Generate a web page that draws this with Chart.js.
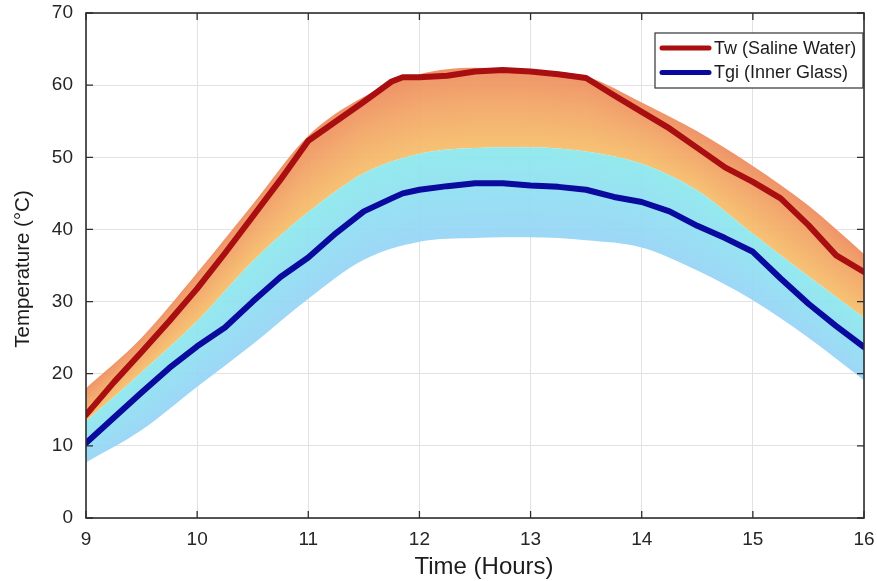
<!DOCTYPE html>
<html>
<head>
<meta charset="utf-8">
<script src="https://cdn.jsdelivr.net/npm/chart.js@4.4.1/dist/chart.umd.min.js"></script>
<style>
  html, body { margin: 0; padding: 0; background: #ffffff; }
  canvas { display: block; }
</style>
</head>
<body>
<canvas id="chart" width="877" height="581"></canvas>
<script>
// Hourly temperatures of the saline water and the inner glass surface
const lineHours = [9, 9.25, 9.5, 9.75, 10, 10.25, 10.5, 10.75, 11, 11.25, 11.5, 11.75, 11.85, 12, 12.25, 12.5, 12.75, 13, 13.25, 13.5, 13.75, 14, 14.25, 14.5, 14.75, 15, 15.25, 15.5, 15.75, 16];
const twSaline = [14.3, 18.8, 23.0, 27.3, 31.8, 36.7, 41.8, 46.9, 52.3, 55.0, 57.7, 60.5, 61.1, 61.1, 61.3, 61.9, 62.1, 61.9, 61.5, 61.0, 58.6, 56.3, 54.0, 51.3, 48.6, 46.6, 44.3, 40.6, 36.4, 34.1];
const tgiGlass = [10.4, 13.9, 17.4, 20.8, 23.8, 26.4, 30.0, 33.4, 36.1, 39.5, 42.5, 44.3, 45.0, 45.5, 46.0, 46.4, 46.4, 46.1, 45.9, 45.5, 44.5, 43.8, 42.5, 40.5, 38.8, 36.9, 33.2, 29.7, 26.6, 23.7];

// Uncertainty envelopes around each series
const bandHours = [9, 9.5, 10, 10.5, 11, 11.5, 12, 12.5, 13, 13.5, 14, 14.5, 15, 15.5, 16];
const twBandTop = [18.0, 25.0, 34.0, 43.5, 53.0, 58.4, 61.5, 62.4, 62.1, 61.2, 57.6, 53.6, 48.8, 43.3, 36.6];
const bandSplit = [13.4, 20.2, 27.3, 35.6, 42.4, 47.8, 50.5, 51.3, 51.4, 50.8, 49.1, 45.4, 39.4, 33.5, 27.8];
const tgiBandBottom = [7.7, 12.2, 18.2, 24.1, 30.4, 35.8, 38.3, 38.8, 38.9, 38.5, 37.5, 34.3, 30.2, 25.0, 19.1];

const xTicks = [9, 10, 11, 12, 13, 14, 15, 16];
const yTicks = [0, 10, 20, 30, 40, 50, 60, 70];
const seriesNames = ['Tw (Saline Water)', 'Tgi (Inner Glass)'];
const xTitle = 'Time (Hours)';
const yTitle = 'Temperature (°C)';

const FONT = '"Liberation Sans", Arial, Helvetica, sans-serif';
const RED = '#a90f10';
const BLUE = '#0a0a9e';
const AXIS = '#2e2e2e';

const toPoints = (xs, ys) => xs.map((x, i) => ({ x: x, y: ys[i] }));

function interpY(points, px) {
  if (px <= points[0].x) return points[0].y;
  for (let i = 1; i < points.length; i++) {
    const a = points[i - 1], b = points[i];
    if (px <= b.x) {
      const t = (px - a.x) / (b.x - a.x);
      return a.y + t * (b.y - a.y);
    }
  }
  return points[points.length - 1].y;
}

function tracePath(ctx, line, area) {
  if (typeof line.path === 'function') {
    if (typeof line.updateControlPoints === 'function') line.updateControlPoints(area, 'x');
    line.path(ctx);
  } else {
    const pts = line.points;
    ctx.moveTo(pts[0].x, pts[0].y);
    for (let i = 1; i < pts.length; i++) ctx.lineTo(pts[i].x, pts[i].y);
  }
}

// Shaded envelopes: each column gets its own vertical gradient between the band edges
const bandPlugin = {
  id: 'bands',
  beforeDatasetsDraw(chart) {
    const ctx = chart.ctx;
    const area = chart.chartArea;
    const bands = [
      { top: 2, bottom: 3, stops: [[0, 'rgba(238,140,94,0.93)'], [0.45, 'rgba(242,165,100,0.93)'], [1, 'rgba(246,190,106,0.93)']] },
      { top: 3, bottom: 4, stops: [[0, 'rgba(140,232,236,0.93)'], [0.5, 'rgba(144,222,242,0.93)'], [1, 'rgba(150,212,246,0.93)']] }
    ];
    bands.forEach(b => {
      const mTop = chart.getDatasetMeta(b.top);
      const mBot = chart.getDatasetMeta(b.bottom);
      ctx.save();
      ctx.beginPath();
      tracePath(ctx, mTop.dataset, area);
      ctx.lineTo(area.right + 2, area.bottom + 2);
      ctx.lineTo(area.left - 2, area.bottom + 2);
      ctx.closePath();
      ctx.clip();
      ctx.beginPath();
      tracePath(ctx, mBot.dataset, area);
      ctx.lineTo(area.right + 2, area.top - 2);
      ctx.lineTo(area.left - 2, area.top - 2);
      ctx.closePath();
      ctx.clip();
      const topPts = mTop.data, botPts = mBot.data;
      for (let px = Math.floor(area.left); px < Math.ceil(area.right); px++) {
        const cx = px + 0.5;
        const yt = interpY(topPts, cx);
        const yb = interpY(botPts, cx);
        const g = ctx.createLinearGradient(0, yt, 0, Math.max(yb, yt + 1));
        b.stops.forEach(s => g.addColorStop(s[0], s[1]));
        ctx.fillStyle = g;
        ctx.fillRect(px, area.top, 1, area.bottom - area.top);
      }
      ctx.restore();
    });
  },
  afterDraw(chart) {
    const ctx = chart.ctx;
    const area = chart.chartArea;
    const xs = chart.scales.x, ys = chart.scales.y;
    ctx.save();
    // inward tick marks on all four sides
    ctx.strokeStyle = AXIS;
    ctx.lineWidth = 1.3;
    ctx.beginPath();
    xTicks.forEach(v => {
      const px = xs.getPixelForValue(v);
      ctx.moveTo(px, area.bottom); ctx.lineTo(px, area.bottom - 7);
      ctx.moveTo(px, area.top); ctx.lineTo(px, area.top + 7);
    });
    yTicks.forEach(v => {
      const py = ys.getPixelForValue(v);
      ctx.moveTo(area.left, py); ctx.lineTo(area.left + 7, py);
      ctx.moveTo(area.right, py); ctx.lineTo(area.right - 7, py);
    });
    ctx.stroke();
    // box frame
    ctx.lineWidth = 1.6;
    ctx.strokeRect(area.left, area.top, area.right - area.left, area.bottom - area.top);

    // axis titles
    ctx.fillStyle = '#1c1c1c';
    ctx.textAlign = 'center';
    ctx.textBaseline = 'middle';
    ctx.font = '24px ' + FONT;
    ctx.fillText(xTitle, 484, 567);
    ctx.save();
    ctx.translate(23, 269);
    ctx.rotate(-Math.PI / 2);
    ctx.font = '20.5px ' + FONT;
    ctx.fillText(yTitle, 0, 0);
    ctx.restore();

    // legend
    const w = 208, h = 55;
    const lx = area.right - w - 1, ly = area.top + 20;
    ctx.fillStyle = '#ffffff';
    ctx.fillRect(lx, ly, w, h);
    ctx.lineWidth = 1.2;
    ctx.strokeStyle = '#333333';
    ctx.strokeRect(lx, ly, w, h);
    const colors = [RED, BLUE];
    ctx.font = '18px ' + FONT;
    ctx.textBaseline = 'middle';
    ctx.textAlign = 'left';
    seriesNames.forEach((name, i) => {
      const y = ly + 15 + i * 24.5;
      ctx.strokeStyle = colors[i];
      ctx.lineWidth = 5;
      ctx.lineCap = 'round';
      ctx.beginPath();
      ctx.moveTo(lx + 7, y); ctx.lineTo(lx + 54, y);
      ctx.stroke();
      ctx.fillStyle = '#1c1c1c';
      ctx.fillText(name, lx + 59, y + 1);
    });
    ctx.restore();
  }
};

const edgeStyle = {
  borderWidth: 0,
  borderColor: 'rgba(0,0,0,0)',
  backgroundColor: 'rgba(0,0,0,0)',
  pointRadius: 0,
  pointHoverRadius: 0,
  fill: false,
  cubicInterpolationMode: 'monotone'
};

new Chart(document.getElementById('chart'), {
  type: 'line',
  data: {
    datasets: [
      {
        label: seriesNames[0],
        data: toPoints(lineHours, twSaline),
        borderColor: RED,
        borderWidth: 6,
        pointRadius: 0,
        borderJoinStyle: 'round',
        borderCapStyle: 'round',
        tension: 0,
        fill: false
      },
      {
        label: seriesNames[1],
        data: toPoints(lineHours, tgiGlass),
        borderColor: BLUE,
        borderWidth: 6,
        pointRadius: 0,
        borderJoinStyle: 'round',
        borderCapStyle: 'round',
        tension: 0,
        fill: false
      },
      Object.assign({ label: 'Tw upper', data: toPoints(bandHours, twBandTop) }, edgeStyle),
      Object.assign({ label: 'Tw lower / Tgi upper', data: toPoints(bandHours, bandSplit) }, edgeStyle),
      Object.assign({ label: 'Tgi lower', data: toPoints(bandHours, tgiBandBottom) }, edgeStyle)
    ]
  },
  options: {
    responsive: false,
    devicePixelRatio: 1,
    animation: false,
    events: [],
    layout: { padding: { top: 13, right: 13, left: 0, bottom: 0 } },
    plugins: {
      legend: { display: false },
      tooltip: { enabled: false },
      title: { display: false }
    },
    scales: {
      x: {
        type: 'linear',
        min: 9,
        max: 16,
        afterBuildTicks: s => { s.ticks = xTicks.map(v => ({ value: v })); },
        afterFit: s => { s.height = 63; s.paddingLeft = 0; s.paddingRight = 0; },
        grid: { color: '#e2e2e2', lineWidth: 1, drawTicks: false },
        border: { display: false },
        ticks: {
          padding: 10,
          color: '#262626',
          font: { family: FONT, size: 19 },
          maxRotation: 0,
          autoSkip: false
        },
        title: { display: false }
      },
      y: {
        type: 'linear',
        min: 0,
        max: 70,
        afterBuildTicks: s => { s.ticks = yTicks.map(v => ({ value: v })); },
        afterFit: s => { s.width = 86; s.paddingTop = 0; s.paddingBottom = 0; },
        grid: { color: '#e2e2e2', lineWidth: 1, drawTicks: false },
        border: { display: false },
        ticks: {
          padding: 13,
          color: '#262626',
          font: { family: FONT, size: 19 },
          autoSkip: false
        },
        title: { display: false }
      }
    }
  },
  plugins: [bandPlugin]
});
</script>
</body>
</html>
